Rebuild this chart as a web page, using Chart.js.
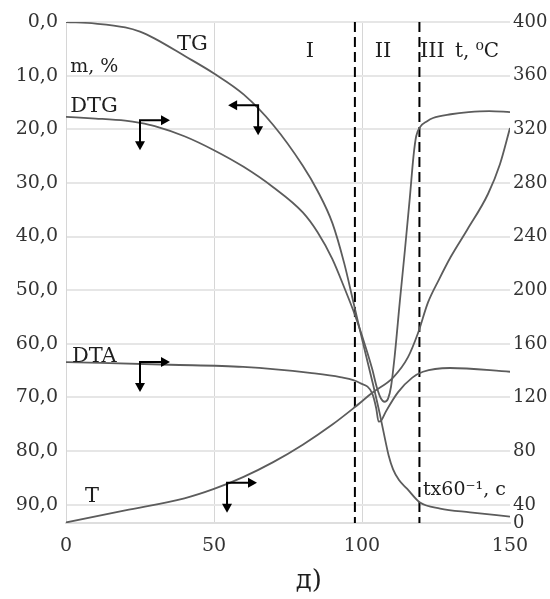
<!DOCTYPE html>
<html>
<head>
<meta charset="utf-8">
<script src="https://cdn.jsdelivr.net/npm/chart.js@4/dist/chart.umd.min.js"></script>
<style>
  body { margin: 0; background: #fff; }
</style>
</head>
<body>
<canvas id="chart" width="550" height="599"></canvas>
<script>
// time, t x 60^-1 (s) and readings taken off the thermogram
let tgTime = [0, 10, 20, 25, 30, 40, 50, 60, 70, 80, 85, 90, 94, 97, 100.4, 103.7, 106.1, 107.8, 109, 110.5, 112.5, 115.2, 119.6, 126.4, 136.5, 150];
let tgMass = [0, 0.3, 1.0, 1.8, 3.1, 6.3, 9.6, 13.5, 19.2, 26.8, 31.5, 37.5, 45.0, 52.0, 60.0, 67.5, 73.3, 77.8, 80.8, 83.4, 85.4, 87.0, 89.6, 90.7, 91.4, 92.2];

let dtgTime = [0, 10, 20, 25, 30, 40, 50, 60, 70, 80, 85, 90, 94, 97.6, 101, 103.4, 105.1, 106.4, 107.6, 108.8, 109.8, 111, 112.8, 114.5, 116.2, 117.4, 118.3, 119.6, 122, 124, 130, 136, 143, 150];
let dtgValue = [17.7, 18.0, 18.4, 18.8, 19.4, 21.3, 23.9, 27.0, 30.8, 35.5, 39.2, 44.2, 49.5, 54.6, 60.2, 64.6, 68.3, 70.2, 70.8, 70.2, 68.0, 62.5, 52.0, 42.5, 32.5, 25.0, 21.3, 19.6, 18.5, 17.9, 17.2, 16.8, 16.6, 16.8];

let dtaTime = [0, 35.1, 59.8, 82.4, 92.6, 99.3, 103.4, 104.8, 105.6, 106.5, 108.1, 112.2, 117, 120.6, 129.7, 150];
let dtaValue = [63.4, 63.9, 64.3, 65.4, 66.2, 67.3, 69.2, 72.0, 74.5, 74.3, 72.6, 69.0, 66.3, 65.2, 64.5, 65.2];

let tTime = [0, 20, 40, 50, 60, 70, 80, 90, 97.6, 103.7, 110.5, 115.5, 118.9, 122.3, 126, 130, 135.5, 142.6, 146.6, 150];
let tTemp = [27, 36, 45, 52, 61, 72, 85, 100, 113, 124, 135, 150, 168, 191, 208, 225, 245, 272, 294, 321];

let boundaries = [97.6, 119.4];

let timeTicks = [0, 50, 100, 150];
let massTicks = [0, 10, 20, 30, 40, 50, 60, 70, 80, 90];
let tempTicks = [40, 80, 120, 160, 200, 240, 280, 320, 360, 400];
let massMax = 93.4;
let tempMin = 26.6;
let tempMax = 400;

function points(xs, ys) {
    return xs.map(function (x, i) { return { x: x, y: ys[i] }; });
}

let curveColor = "#5c5c5c";
let serif = '"DejaVu Serif", "Liberation Serif", serif';

function curve(label, xs, ys, axis) {
    return {
        label: label,
        data: points(xs, ys),
        yAxisID: axis,
        borderColor: curveColor,
        borderWidth: 1.8,
        pointRadius: 0,
        fill: false,
        cubicInterpolationMode: "monotone"
    };
}

let datasets = [
    curve("TG", tgTime, tgMass, "y"),
    curve("DTG", dtgTime, dtgValue, "y"),
    curve("DTA", dtaTime, dtaValue, "y"),
    curve("T", tTime, tTemp, "y1")
];
boundaries.forEach(function (b) {
    datasets.push({
        label: "stage",
        data: [{ x: b, y: 0 }, { x: b, y: massMax }],
        yAxisID: "y",
        borderColor: "#000",
        borderWidth: 2,
        borderDash: [10, 5],
        pointRadius: 0,
        fill: false
    });
});

// text notes and corner arrows, placed in data units
let notes = [
    ["TG", 37.5, 5.3, "left", 21],
    ["m, %", 1.4, 9.4, "left", 19],
    ["DTG", 1.4, 16.8, "left", 21],
    ["DTA", 2.0, 63.4, "left", 21],
    ["T", 6.4, 89.4, "left", 21],
    ["I", 82.4, 6.6, "center", 21],
    ["II", 107.1, 6.6, "center", 21],
    ["III", 119.6, 6.6, "left", 21],
    ["t, \u2070C", 131.4, 6.6, "left", 20],
    ["tx60\u207B\u00B9, c", 120.6, 88.1, "left", 19]
];
let arrows = [
    [25.0, 18.3, 1],
    [64.9, 15.5, -1],
    [25.0, 63.4, 1],
    [54.4, 85.9, 1]
];

function head(ctx, x, y, dx, dy) {
    ctx.beginPath();
    ctx.moveTo(x, y);
    ctx.lineTo(x - dx * 9 - dy * 5, y - dy * 9 - dx * 5);
    ctx.lineTo(x - dx * 9 + dy * 5, y - dy * 9 + dx * 5);
    ctx.closePath();
    ctx.fill();
}

const notesPlugin = {
    id: "notes",
    afterDatasetsDraw(chart) {
        let ctx = chart.ctx;
        let xs = chart.scales.x, ys = chart.scales.y;
        ctx.save();
        ctx.fillStyle = "#1e1e1e";
        ctx.strokeStyle = "#000";
        ctx.textBaseline = "alphabetic";
        notes.forEach(function (n) {
            ctx.font = n[4] + "px " + serif;
            ctx.textAlign = n[3];
            ctx.fillText(n[0], xs.getPixelForValue(n[1]), ys.getPixelForValue(n[2]));
        });
        ctx.fillStyle = "#000";
        ctx.lineWidth = 2;
        arrows.forEach(function (a) {
            let px = xs.getPixelForValue(a[0]);
            let py = ys.getPixelForValue(a[1]);
            let ex = px + a[2] * 30;
            let ey = py + 30;
            ctx.beginPath();
            ctx.moveTo(ex - a[2] * 6, py);
            ctx.lineTo(px, py);
            ctx.lineTo(px, ey - 6);
            ctx.stroke();
            head(ctx, ex, py, a[2], 0);
            head(ctx, px, ey, 0, 1);
        });
        ctx.font = "26px " + serif;
        ctx.textAlign = "center";
        ctx.fillStyle = "#1e1e1e";
        ctx.fillText("\u0434)", xs.getPixelForValue(82), chart.height - 11);
        ctx.restore();
    }
};

Chart.defaults.font.family = serif;
Chart.defaults.color = "#333";

let myChart = document.getElementById("chart").getContext("2d");
let display = new Chart(myChart, {
    type: "line",
    data: { datasets: datasets },
    options: {
        responsive: false,
        animation: false,
        layout: { padding: { top: 22 } },
        plugins: {
            legend: { display: false },
            tooltip: { enabled: false },
            title: { display: false }
        },
        scales: {
            x: {
                type: "linear",
                min: 0,
                max: 150,
                afterBuildTicks: function (scale) {
                    scale.ticks = timeTicks.map(function (v) { return { value: v }; });
                },
                afterFit: function (scale) { scale.height = 76; },
                ticks: { font: { size: 19 }, padding: 12, maxRotation: 0 },
                grid: {
                    drawTicks: false,
                    lineWidth: 1,
                    color: function (c) { return c.tick && c.tick.value === 150 ? "rgba(0,0,0,0)" : "#d6d6d6"; }
                },
                border: { color: "#dedede", width: 2 }
            },
            y: {
                type: "linear",
                reverse: true,
                min: 0,
                max: massMax,
                afterBuildTicks: function (scale) {
                    scale.ticks = massTicks.map(function (v) { return { value: v }; });
                },
                afterFit: function (scale) { scale.width = 66; },
                ticks: {
                    font: { size: 19 },
                    padding: 8,
                    callback: function (v) { return v.toFixed(1).replace(".", ","); }
                },
                grid: { drawTicks: false, lineWidth: 2, color: "#e6e6e6" },
                border: { color: "#d6d6d6", width: 1 }
            },
            y1: {
                type: "linear",
                position: "right",
                min: tempMin,
                max: tempMax,
                afterBuildTicks: function (scale) {
                    scale.ticks = [{ value: tempMin }].concat(tempTicks.map(function (v) { return { value: v }; }));
                },
                afterFit: function (scale) { scale.width = 40; },
                ticks: {
                    font: { size: 18 },
                    padding: 3,
                    callback: function (v) { return v === tempMin ? "0" : String(v); }
                },
                grid: { display: false, drawTicks: false },
                border: { display: false }
            }
        }
    },
    plugins: [notesPlugin]
});
</script>
</body>
</html>
